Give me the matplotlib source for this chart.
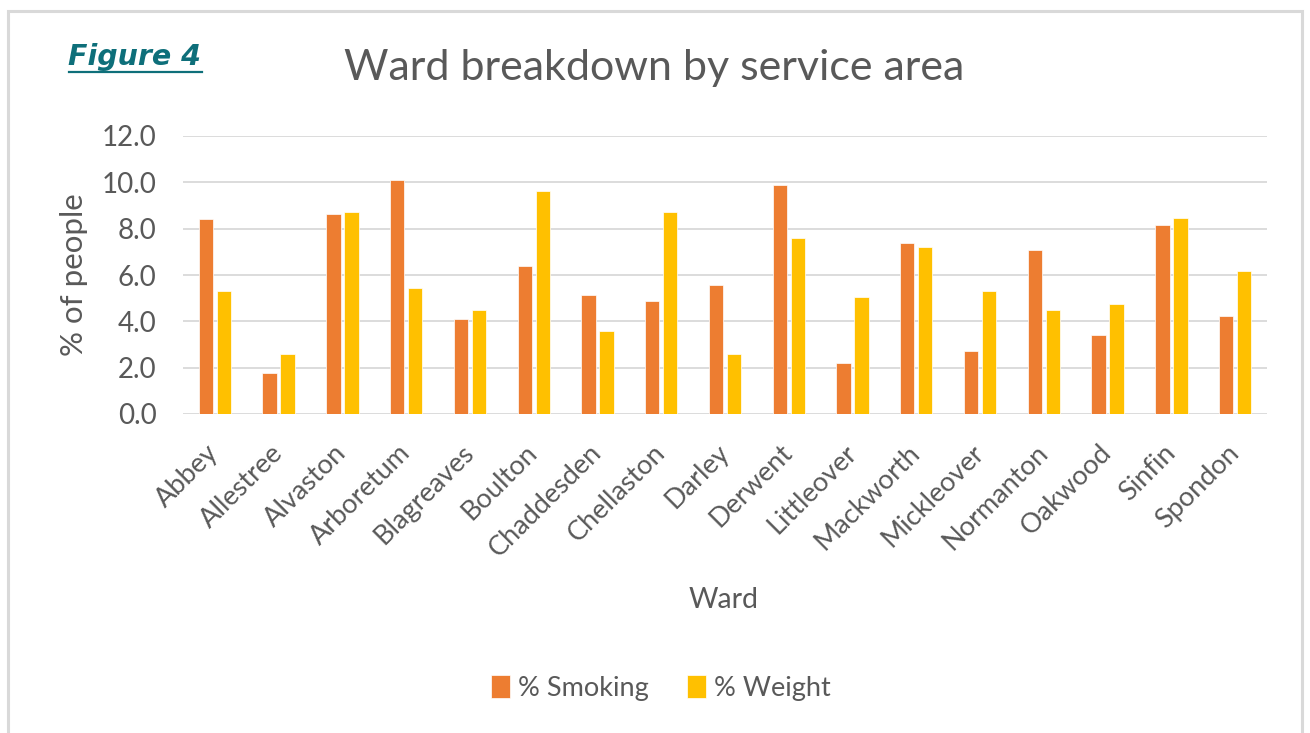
import numpy as np
import matplotlib.pyplot as plt
from matplotlib.patches import Rectangle
from matplotlib.lines import Line2D

# === DATA ===
wards = ["Abbey", "Allestree", "Alvaston", "Arboretum", "Blagreaves", "Boulton",
         "Chaddesden", "Chellaston", "Darley", "Derwent", "Littleover", "Mackworth",
         "Mickleover", "Normanton", "Oakwood", "Sinfin", "Spondon"]
pct_smoking = [8.42, 1.79, 8.63, 10.08, 4.09, 6.41, 5.14, 4.86, 5.56, 9.88,
               2.20, 7.37, 2.70, 7.10, 3.39, 8.14, 4.23]
pct_weight = [5.29, 2.57, 8.70, 5.42, 4.51, 9.61, 3.60, 8.70, 2.57, 7.59,
              5.07, 7.23, 5.29, 4.51, 4.73, 8.48, 6.19]
y_ticks = [0, 2, 4, 6, 8, 10, 12]

# === STYLE ===
ORANGE = "#ED7D31"
YELLOW = "#FFC000"
TEXT = "#595959"
GRID = "#D9D9D9"
TEAL = "#0E6F7A"
plt.rcParams["font.family"] = ["Lato", "DejaVu Sans"]

W, H = 1310, 733
fig = plt.figure(figsize=(W / 100, H / 100), dpi=100)


def fx(px):
    return px / W


def fy(py):
    return 1 - py / H


# light frame round the chart (open at the bottom edge)
fig.add_artist(Rectangle((fx(8), -0.05), fx(1294), 1 - 11 / H + 0.05,
                         transform=fig.transFigure, fill=False,
                         edgecolor=GRID, linewidth=2.2))

ax = fig.add_axes([fx(183), fy(414), fx(1084), 278 / H])

x = np.arange(len(wards))
w = 0.225
off = 0.141
ax.bar(x - off, pct_smoking, w, color=ORANGE, edgecolor="white", linewidth=0.5,
       label="% Smoking", zorder=3)
ax.bar(x + off, pct_weight, w, color=YELLOW, edgecolor="white", linewidth=0.5,
       label="% Weight", zorder=3)

ax.set_xlim(-0.5, len(wards) - 0.5)
ax.set_ylim(0, 12)
ax.set_yticks(y_ticks)
ax.set_yticklabels([f"{v:.1f}" for v in y_ticks])
ax.yaxis.grid(True, color=GRID, linewidth=1.3, zorder=0)
ax.tick_params(axis="y", length=0, pad=19, labelsize=20, labelcolor=TEXT)
ax.tick_params(axis="x", length=0, pad=25, labelsize=19.5, labelcolor=TEXT)
ax.set_xticks(x)
ax.set_xticklabels(wards, rotation=45, ha="right", va="center",
                   rotation_mode="anchor")
for s in ax.spines.values():
    s.set_visible(False)

ax.set_ylabel("% of people", fontsize=22.5, color=TEXT, labelpad=10)

fig.text(fx(724), fy(600), "Ward", ha="center", va="center",
         fontsize=20.5, color=TEXT)

fig.text(fx(654), fy(68), "Ward breakdown by service area",
         ha="center", va="center", fontsize=31, color=TEXT)

# "Figure 4" caption, underlined
fig.text(fx(68), fy(57), "Figure 4", ha="left", va="center",
         fontsize=20.5, fontweight="bold", fontstyle="italic", color=TEAL,
         family=["DejaVu Sans"])
fig.add_artist(Line2D([fx(69), fx(202)], [fy(71.5), fy(71.5)],
                      transform=fig.transFigure, color=TEAL, linewidth=1.6))

handles, labels = ax.get_legend_handles_labels()
fig.legend(handles, labels, loc="center", bbox_to_anchor=(fx(661), fy(688)),
           ncol=2, frameon=False, fontsize=19.5, labelcolor=TEXT,
           handlelength=0.7, handleheight=0.9, handletextpad=0.3,
           columnspacing=1.4)

fig.savefig("out.png", dpi=100, facecolor="white")
